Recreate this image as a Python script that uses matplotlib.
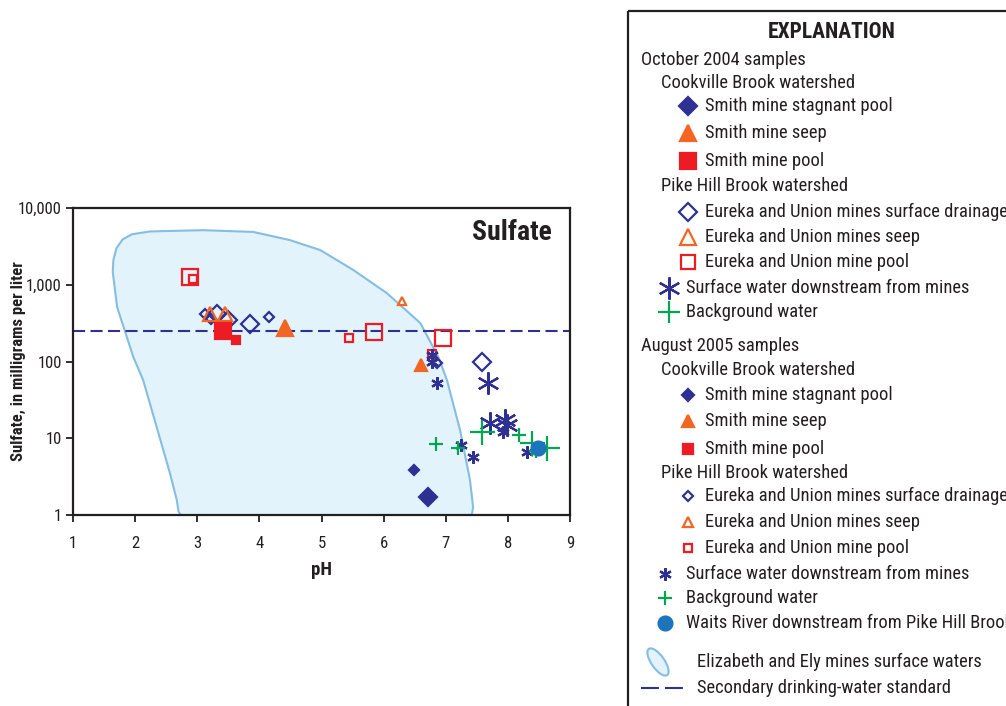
import matplotlib
matplotlib.use('Agg')
import matplotlib.pyplot as plt
from matplotlib.patches import Polygon, Ellipse, Rectangle
from matplotlib import font_manager as fm
import numpy as np

# condensed sans, like the original Univers Condensed
avail = {f.name for f in fm.fontManager.ttflist}
cands = ['Roboto Condensed', 'Archivo Narrow', 'PT Sans Narrow', 'Pragati Narrow',
         'Barlow Semi Condensed', 'Liberation Sans Narrow', 'Liberation Sans']
FONT = [c for c in cands if c in avail][0]
plt.rcParams['font.family'] = [FONT, 'DejaVu Sans']

NAVY = '#2e3192'
ORANGE = '#f26522'
RED = '#ed1c24'
GREEN = '#00a651'
BLUE = '#1c75bc'
FILL = '#e2f3fb'
EDGE = '#86bde3'
INK = '#231f20'

# October 2004 samples (large symbols)
oct_stag_ph, oct_stag_so4 = [6.72], [1.7]
oct_seep_ph, oct_seep_so4 = [4.41], [275]
oct_pool_ph, oct_pool_so4 = [3.42], [250]
oct_drain_ph, oct_drain_so4 = [3.32, 3.50, 3.85, 7.58], [420, 350, 305, 100]
oct_euseep_ph, oct_euseep_so4 = [3.20, 3.45], [420, 420]
oct_eupool_ph, oct_eupool_so4 = [2.88, 5.85, 6.96], [1250, 240, 200]
oct_down_ph, oct_down_so4 = [7.68, 7.71, 7.95, 7.99], [52, 16, 17.5, 15]
oct_bg_ph, oct_bg_so4 = [7.58, 8.39, 8.63], [12, 8.7, 7.5]

# August 2005 samples (small symbols)
aug_stag_ph, aug_stag_so4 = [6.49], [3.9]
aug_seep_ph, aug_seep_so4 = [6.60], [90]
aug_pool_ph, aug_pool_so4 = [3.63], [190]
aug_drain_ph, aug_drain_so4 = [3.12, 3.22, 4.16, 6.86], [410, 360, 380, 95]
aug_euseep_ph, aug_euseep_so4 = [6.30], [610]
aug_eupool_ph, aug_eupool_so4 = [2.93, 5.44, 6.78], [1200, 205, 125]
aug_down_ph = [6.78, 6.78, 6.86, 7.25, 7.44, 7.92, 8.31]
aug_down_so4 = [120, 100, 52, 8.2, 5.7, 12, 6.7]
aug_bg_ph, aug_bg_so4 = [6.84, 7.20, 8.18, 8.45], [8.4, 7.5, 11, 6.8]
waits_ph, waits_so4 = [8.49], [7.5]

# Elizabeth and Ely mines surface waters field (outline)
field_ph = [1.64, 1.65, 1.70, 1.80, 1.95, 2.24, 3.09, 3.90, 4.49, 4.98, 5.51, 6.05,
            6.59, 6.88, 7.02, 7.23, 7.39, 7.44, 7.42, 7.36, 2.80, 2.70, 2.67, 2.56,
            2.13, 1.97, 1.71]
field_so4 = [1470, 2100, 3000, 3900, 4550, 4950, 5140, 4880, 3820, 2830, 1560, 780,
             317, 115, 57, 12.8, 2.86, 1.27, 1.0, 0.85, 0.85, 1.1, 1.57, 3.52,
             57, 115, 513]

standard = 250

W, H = 1006, 706
fig = plt.figure(figsize=(W / 100, H / 100), dpi=100)
ax = fig.add_axes([73 / W, 1 - 515 / H, (570 - 73) / W, (515 - 208) / H])

ax.add_patch(Polygon(np.column_stack([field_ph, field_so4]), closed=True,
                     facecolor=FILL, edgecolor=EDGE, linewidth=1.5, zorder=1))
ax.axhline(standard, color=NAVY, linewidth=1.5, dashes=(5.8, 2.6), zorder=2)

ast = (6, 2, 0)
series = [
    (oct_eupool_ph, oct_eupool_so4, 's', RED, 'none', 11),
    (aug_eupool_ph, aug_eupool_so4, 's', RED, 'none', 5.5),
    (oct_drain_ph, oct_drain_so4, 'D', NAVY, 'none', 9),
    (aug_drain_ph, aug_drain_so4, 'D', NAVY, 'none', 5.5),
    (oct_euseep_ph, oct_euseep_so4, '^', ORANGE, 'none', 10),
    (aug_euseep_ph, aug_euseep_so4, '^', ORANGE, 'none', 6),
    (oct_stag_ph, oct_stag_so4, 'D', NAVY, NAVY, 9),
    (aug_stag_ph, aug_stag_so4, 'D', NAVY, NAVY, 5.5),
    (oct_seep_ph, oct_seep_so4, '^', ORANGE, ORANGE, 12),
    (aug_seep_ph, aug_seep_so4, '^', ORANGE, ORANGE, 8),
    (oct_pool_ph, oct_pool_so4, 's', RED, RED, 11),
    (aug_pool_ph, aug_pool_so4, 's', RED, RED, 6),
    (oct_down_ph, oct_down_so4, ast, NAVY, NAVY, 16),
    (aug_down_ph, aug_down_so4, ast, NAVY, NAVY, 9),
    (oct_bg_ph, oct_bg_so4, '+', GREEN, GREEN, 18),
    (aug_bg_ph, aug_bg_so4, '+', GREEN, GREEN, 10),
    (waits_ph, waits_so4, 'o', BLUE, BLUE, 10),
]
for x, y, m, ec, fc, ms in series:
    ax.plot(x, y, linestyle='none', marker=m, markersize=ms, markeredgecolor=ec,
            markerfacecolor=fc, markeredgewidth=1.6, zorder=3)

ax.set_yscale('log')
ax.set_xlim(1, 9)
ax.set_ylim(1, 10000)
ax.set_xticks(range(1, 10))
ax.set_yticks([1, 10, 100, 1000, 10000])
ax.set_yticklabels(['1', '10', '100', '1,000', '10,000'])
ax.yaxis.set_minor_locator(matplotlib.ticker.NullLocator())
ax.tick_params(direction='out', length=5, width=1.3, labelsize=12, pad=3,
               colors=INK)
ax.tick_params(axis='x', pad=10)
for s in ax.spines.values():
    s.set_linewidth(1.6)
    s.set_color(INK)
ax.set_xlabel('pH', fontsize=13.5, fontweight='bold', labelpad=7, color=INK)
ax.set_ylabel('Sulfate, in milligrams per liter', fontsize=12, fontweight='bold',
              color=INK)
ax.yaxis.set_label_coords(-0.095, 0.5)
ax.text(0.963, 0.965, 'Sulfate', transform=ax.transAxes, ha='right', va='top',
        fontsize=20, fontweight='bold', color=INK)

# explanation box
lg = fig.add_axes([0, 0, 1, 1], facecolor='none')
lg.set_xlim(0, W)
lg.set_ylim(H, 0)
lg.axis('off')
lg.add_patch(Rectangle((628, 11), 500, 800, facecolor='none', edgecolor=INK,
                       linewidth=1.6))
lg.text(832, 32, 'EXPLANATION', ha='center', va='center', fontsize=15.5,
        fontweight='bold', color=INK)

fs = 13.3
def head(x, y, s):
    lg.text(x, y, s, ha='left', va='center', fontsize=fs, color=INK)

def item(mx, tx, y, s, m, ec, fc, ms, mew=1.6):
    lg.plot([mx], [y], marker=m, markersize=ms, markeredgecolor=ec,
            markerfacecolor=fc, markeredgewidth=mew, linestyle='none')
    head(tx, y, s)

head(641, 60, 'October 2004 samples')
head(661, 83, 'Cookville Brook watershed')
item(688, 705, 106, 'Smith mine stagnant pool', 'D', NAVY, NAVY, 9)
item(688, 705, 133, 'Smith mine seep', '^', ORANGE, ORANGE, 12)
item(688, 705, 161, 'Smith mine pool', 's', RED, RED, 11)
head(661, 186, 'Pike Hill Brook watershed')
item(688, 705, 212, 'Eureka and Union mines surface drainage', 'D', NAVY, 'none', 9)
item(688, 705, 237, 'Eureka and Union mines seep', '^', ORANGE, 'none', 11)
item(688, 705, 262, 'Eureka and Union mine pool', 's', RED, 'none', 10)
item(669, 686, 288, 'Surface water downstream from mines', ast, NAVY, NAVY, 16)
item(669, 686, 312, 'Background water', '+', GREEN, GREEN, 16)

head(641, 346, 'August 2005 samples')
head(661, 370, 'Cookville Brook watershed')
item(688, 705, 395, 'Smith mine stagnant pool', 'D', NAVY, NAVY, 6)
item(688, 705, 421, 'Smith mine seep', '^', ORANGE, ORANGE, 8)
item(688, 705, 449, 'Smith mine pool', 's', RED, RED, 6.5)
head(661, 473, 'Pike Hill Brook watershed')
item(688, 705, 496, 'Eureka and Union mines surface drainage', 'D', NAVY, 'none', 5.5)
item(688, 705, 522, 'Eureka and Union mines seep', '^', ORANGE, 'none', 6.5)
item(688, 705, 548, 'Eureka and Union mine pool', 's', RED, 'none', 6)
item(665, 686, 574, 'Surface water downstream from mines', ast, NAVY, NAVY, 9)
item(665, 686, 598, 'Background water', '+', GREEN, GREEN, 10)
item(665, 686, 623, 'Waits River downstream from Pike Hill Brook', 'o', BLUE, BLUE, 10)

lg.add_patch(Ellipse((658, 662), 13, 32, angle=-35, facecolor=FILL, edgecolor=EDGE,
                     linewidth=1.5))
head(697, 662, 'Elizabeth and Ely mines surface waters')
lg.plot([641, 683], [688, 688], color=NAVY, linewidth=1.5, dashes=(8.6, 2.9))
head(697, 688, 'Secondary drinking-water standard')

fig.savefig('out.png', dpi=100)
